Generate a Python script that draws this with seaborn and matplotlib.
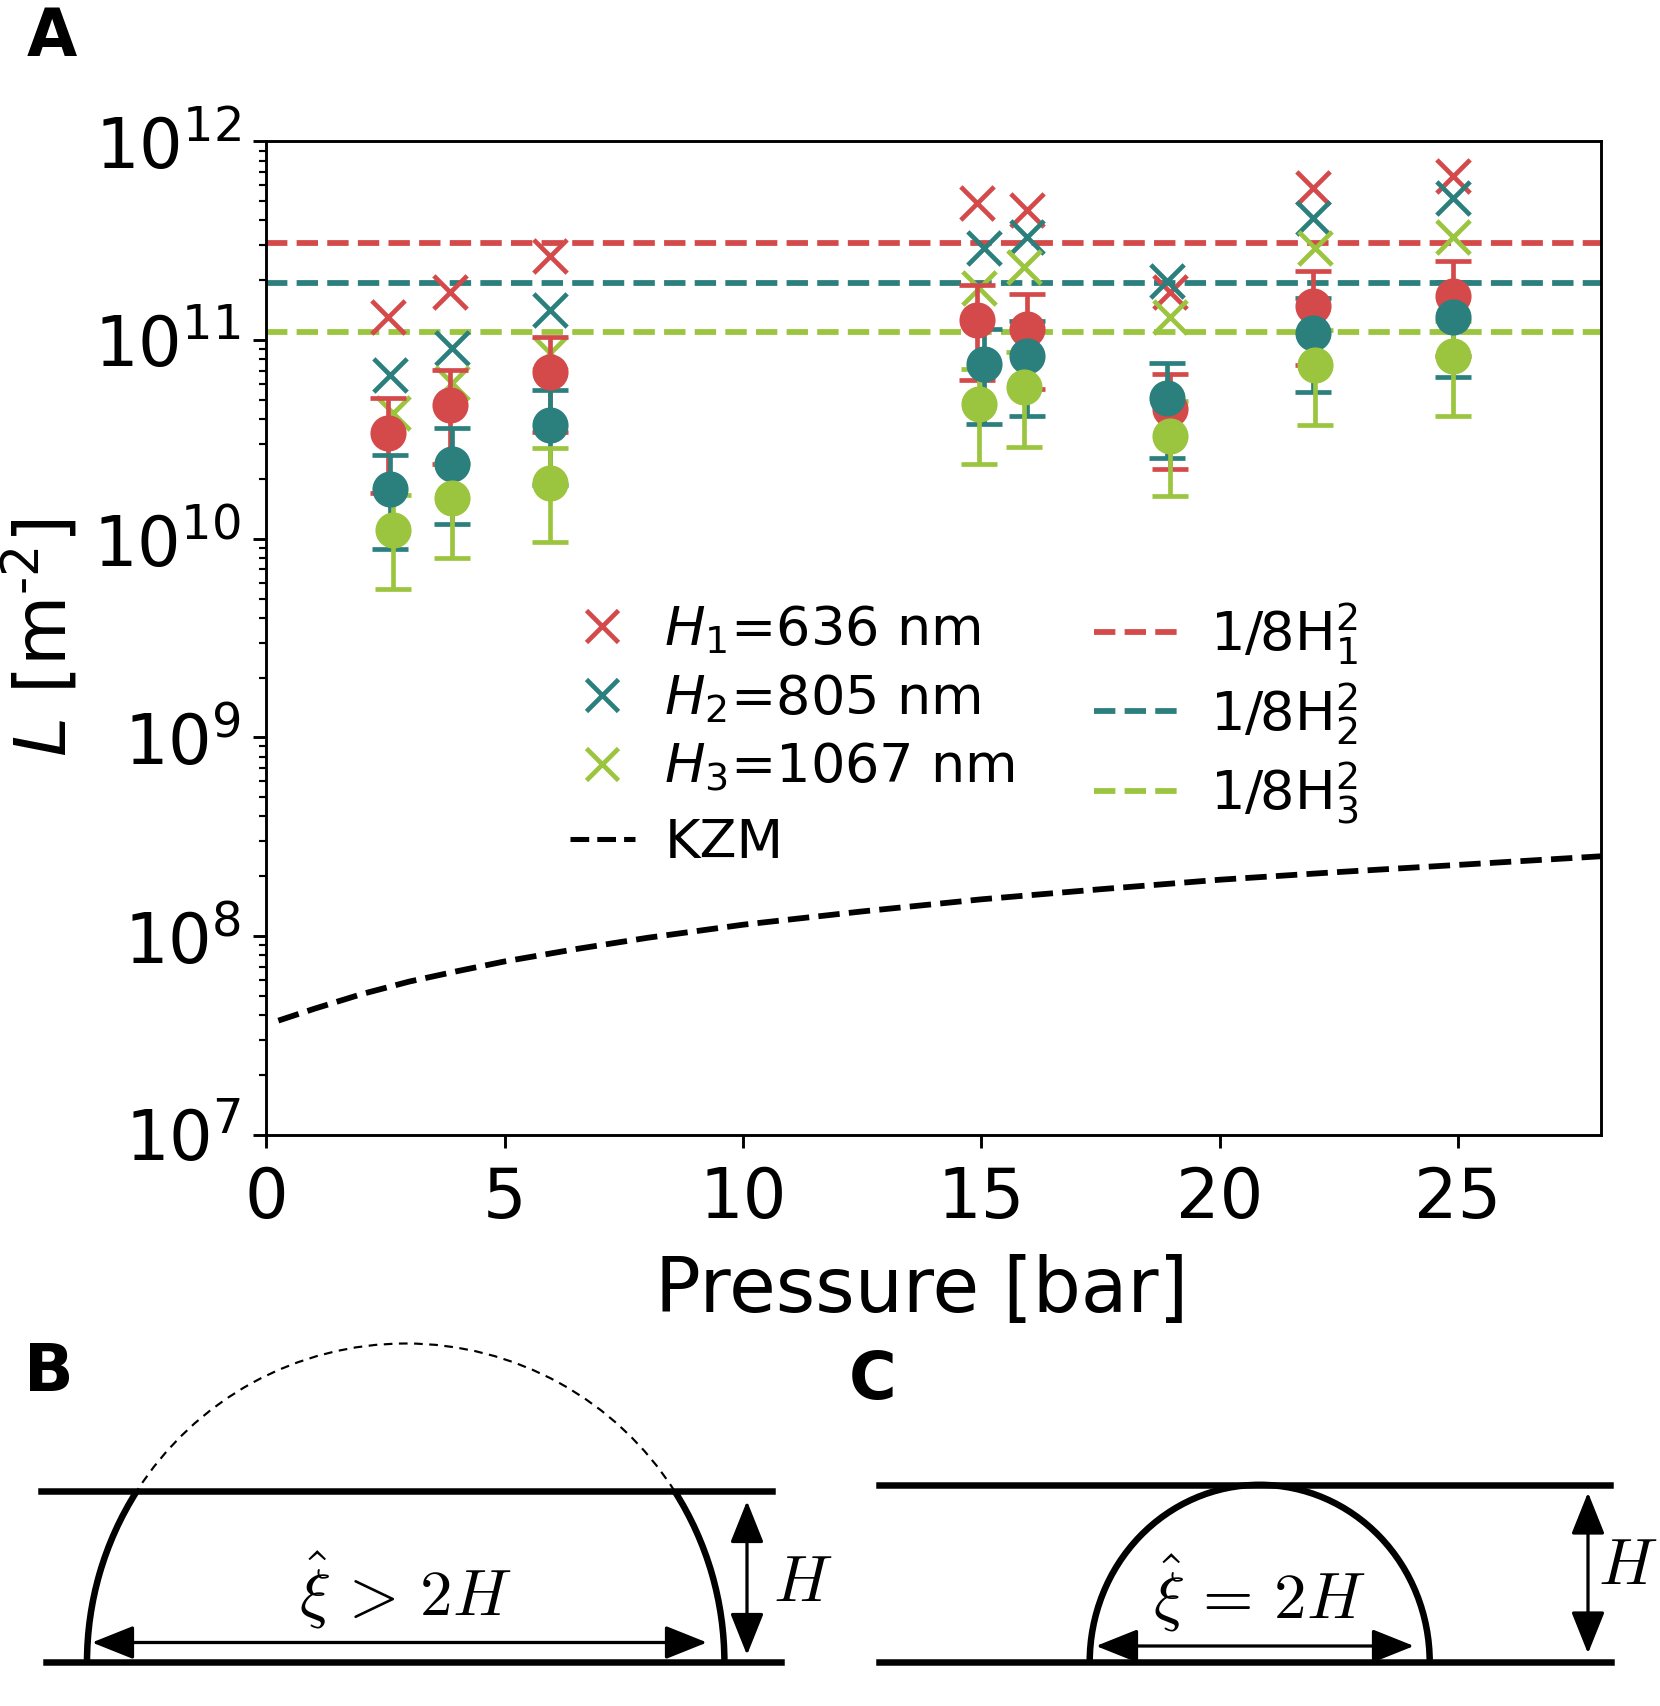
import matplotlib
matplotlib.use("Agg")
import matplotlib.pyplot as plt
import seaborn as sns
from matplotlib.lines import Line2D
from matplotlib.patches import Arc, FancyArrowPatch

# film thicknesses
h_labels = [r"$\mathit{H}_{\mathit{1}}$=636 nm", r"$\mathit{H}_{\mathit{2}}$=805 nm",
            r"$\mathit{H}_{\mathit{3}}$=1067 nm"]
line_labels = [r"1/8H$_1^2$", r"1/8H$_2^2$", r"1/8H$_3^2$"]
colors = ["#d44a4a", "#2b7f7d", "#9bc53f"]

# pressure of each measurement [bar]
p1 = [2.55, 3.85, 5.95, 14.9, 15.95, 18.95, 21.95, 24.9]
p2 = [2.6, 3.9, 5.95, 15.05, 15.95, 18.9, 21.95, 24.9]
p3 = [2.65, 3.9, 5.95, 14.95, 15.9, 18.95, 22.0, 24.9]

# crosses
x1 = [1.30e11, 1.75e11, 2.66e11, 4.87e11, 4.52e11, 1.75e11, 5.8e11, 6.7e11]
x2 = [6.7e10, 9.1e10, 1.42e11, 2.9e11, 3.3e11, 1.99e11, 4.1e11, 5.2e11]
x3 = [4.3e10, 6.05e10, 8.6e10, 1.82e11, 2.34e11, 1.30e11, 2.9e11, 3.3e11]

# circles and their error bars
c1 = [3.4e10, 4.73e10, 6.9e10, 1.26e11, 1.14e11, 4.5e10, 1.49e11, 1.67e11]
c2 = [1.77e10, 2.39e10, 3.72e10, 7.6e10, 8.3e10, 5.1e10, 1.09e11, 1.31e11]
c3 = [1.11e10, 1.6e10, 1.91e10, 4.79e10, 5.8e10, 3.3e10, 7.5e10, 8.3e10]
e1 = [1.7e10, 2.35e10, 3.45e10, 6.3e10, 5.7e10, 2.25e10, 7.45e10, 8.35e10]
e2 = [0.88e10, 1.2e10, 1.86e10, 3.8e10, 4.15e10, 2.55e10, 5.45e10, 6.55e10]
e3 = [0.55e10, 0.8e10, 0.95e10, 2.4e10, 2.9e10, 1.65e10, 3.75e10, 4.15e10]

# 1/8H^2 levels
levels = [3.09e11, 1.93e11, 1.10e11]

# KZM prediction
kzm_p = [0.25, 1, 2, 3, 4, 5, 6.5, 8, 10, 12.5, 15, 17.5, 20, 22.5, 25, 28]
kzm_L = [3.75e7, 4.3e7, 5.1e7, 5.9e7, 6.65e7, 7.45e7, 8.6e7, 9.8e7, 1.14e8,
         1.33e8, 1.53e8, 1.72e8, 1.92e8, 2.1e8, 2.28e8, 2.52e8]

pressures = [p1, p2, p3]
crosses = [x1, x2, x3]
circles = [c1, c2, c3]
errors = [e1, e2, e3]

fig = plt.figure(figsize=(1660 / 260, 1706 / 260), dpi=260)
ax = fig.add_axes([0.1605, 0.3349, 0.8039, 0.5822])

for lev, c in zip(levels, colors):
    ax.axhline(lev, color=c, ls="--", lw=1.6, zorder=0.9)

for p, v, c in zip(pressures, crosses, colors):
    sns.scatterplot(x=p, y=v, ax=ax, marker="x", color=c, s=85, linewidth=1.3, zorder=1)

for p, v, e, c in zip(pressures, circles, errors, colors):
    ax.errorbar(p, v, yerr=e, fmt="o", color=c, ms=9, elinewidth=1.3,
                capsize=5, capthick=1.3, zorder=2)

sns.lineplot(x=kzm_p, y=kzm_L, ax=ax, color="k", ls="--", lw=1.6)

ax.set_yscale("log")
ax.set_xlim(0, 28)
ax.set_ylim(1e7, 1e12)
ax.set_xticks([0, 5, 10, 15, 20, 25])
ax.tick_params(labelsize=19)
ax.tick_params(axis="x", pad=5)
ax.set_xlabel("Pressure [bar]", fontsize=21, labelpad=6)
ax.xaxis.label.set_x(0.491)
ax.set_ylabel("$L$ [m$^{\\mathregular{\u20102}}$]", fontsize=20, labelpad=3)

legend_kw = dict(frameon=False, fontsize=15, handletextpad=0.55, borderpad=0, borderaxespad=0)
h1 = [Line2D([], [], marker="x", ls="none", color=c, ms=9, mew=1.3) for c in colors]
leg1 = ax.legend(h1, h_labels, loc="upper left", bbox_to_anchor=(0.227, 0.535),
                 handlelength=1.2, labelspacing=0.3, **legend_kw)
ax.add_artist(leg1)
hk = [Line2D([], [], color="k", ls="--", lw=1.4)]
leg2 = ax.legend(hk, ["KZM"], loc="center left", bbox_to_anchor=(0.2274, 0.2935),
                 handlelength=1.2, **legend_kw)
ax.add_artist(leg2)
h2 = [Line2D([], [], color=c, ls="--", lw=1.6) for c in colors]
ax.legend(h2, line_labels, loc="upper left", bbox_to_anchor=(0.62, 0.538),
          handlelength=1.6, labelspacing=0.24, **legend_kw)

# schematic panels, drawn in figure pixels (y upwards)
sk = fig.add_axes([0, 0, 1, 1], zorder=-1)
sk.set_xlim(0, 1660)
sk.set_ylim(0, 1706)
sk.axis("off")
sk.patch.set_alpha(0)

thick = 1.8
cm = dict(math_fontfamily="cm", fontsize=18, ha="center", va="center")
arrow = dict(arrowstyle="<|-|>,head_length=0.5,head_width=0.2", mutation_scale=20,
             color="k", lw=0.9, shrinkA=0, shrinkB=0)

# B
sk.plot([41, 772], [214.6, 214.6], color="k", lw=thick)
sk.plot([46, 781], [43.8, 43.8], color="k", lw=thick)
sk.add_patch(Arc((405.7, 43.8), 637.4, 637.4, theta1=0, theta2=32.4, color="k", lw=thick))
sk.add_patch(Arc((405.7, 43.8), 637.4, 637.4, theta1=147.6, theta2=180, color="k", lw=thick))
sk.add_patch(Arc((405.7, 43.8), 637.4, 637.4, theta1=32.4, theta2=147.6, color="k",
                 lw=0.6, ls=(0, (4, 3))))
sk.add_patch(FancyArrowPatch((92, 63.5), (707, 63.5), **arrow))
sk.add_patch(FancyArrowPatch((747, 205), (747, 51), **arrow))
sk.text(405.7, 116, r"$\hat{\xi}\,>\,2H$", **cm)
sk.text(803, 123, r"$H$", **cm)

# C
sk.plot([879, 1610], [221.2, 221.2], color="k", lw=thick)
sk.plot([879, 1611], [43.8, 43.8], color="k", lw=thick)
sk.add_patch(Arc((1259.7, 43.8), 340, 354.8, theta1=0, theta2=180, color="k", lw=thick))
sk.add_patch(FancyArrowPatch((1096, 60), (1414, 60), **arrow))
sk.add_patch(FancyArrowPatch((1588, 213.5), (1588, 52.5), **arrow))
sk.text(1259.7, 112.4, r"$\hat{\xi}\,=\,2H$", **cm)
sk.text(1628, 139.6, r"$H$", **cm)

sk.text(52, 1700, "A", fontsize=18, fontweight="bold", ha="center", va="top")
sk.text(49, 333, "B", fontsize=18, fontweight="bold", ha="center", va="center")
sk.text(873, 325, "C", fontsize=18, fontweight="bold", ha="center", va="center")

fig.savefig("out.png", dpi=260)
